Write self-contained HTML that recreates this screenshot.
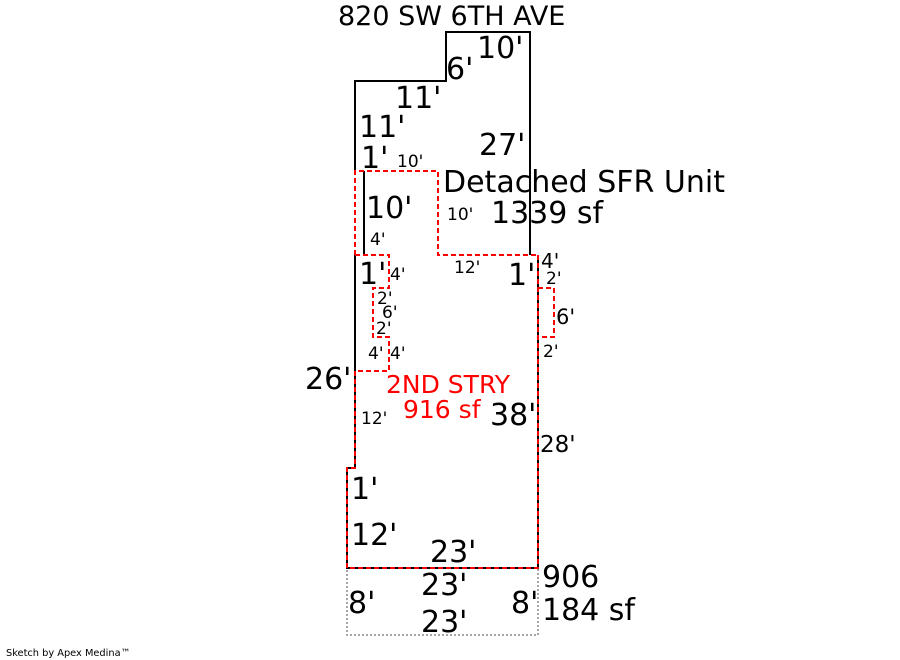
<!DOCTYPE html>
<html><head><meta charset="utf-8"><style>
html,body{margin:0;padding:0;background:#fff;}
svg{display:block;}
text{font-family:"DejaVu Sans","Liberation Sans",sans-serif;fill:#000;}
.b{font-size:30px;}
.m{font-size:25px;}
.s{font-size:17px;}
.r{fill:#f00;}
</style></head><body>
<svg width="900" height="660" viewBox="0 0 900 660" xmlns="http://www.w3.org/2000/svg">
<rect x="347" y="568" width="191" height="67" fill="none" stroke="#888" stroke-width="1.5" stroke-dasharray="2,2"/>
<g fill="none" stroke="#000" stroke-width="2">
<polyline points="355,171 355,81 446,81 446,32 530,32 530,255"/>
<line x1="364" y1="171" x2="364" y2="255"/>
<polyline points="355,255 355,468 347,468 347,568 538,568 538,255"/>
</g>
<g fill="none" stroke="#f00" stroke-width="2" stroke-dasharray="5,3">
<polyline points="355,255 355,171 438,171 438,255 538,255"/>
<polyline points="355,255 389,255 389,288 373,288 373,337 389,337 389,371 355,371"/>
<polyline points="538,288 554,288 554,337 538,337"/>
<polyline points="355,371 355,468 347,468 347,568 538,568 538,255"/>
</g>
<text x="338" y="25" style="font-size:27px">820 SW 6TH AVE</text>
<text x="477" y="58" class="b">10'</text>
<text x="446" y="79" class="b">6'</text>
<text x="395" y="108" class="b">11'</text>
<text x="359" y="137" class="b">11'</text>
<text x="361" y="168" class="b">1'</text>
<text x="397" y="167" class="s">10'</text>
<text x="479" y="155" class="b">27'</text>
<text x="443" y="192" class="b">Detached SFR Unit</text>
<text x="491" y="223" class="b">1339 sf</text>
<text x="366" y="218" class="b">10'</text>
<text x="447" y="220" class="s">10'</text>
<text x="370" y="245" class="s">4'</text>
<text x="359" y="284" class="b">1'</text>
<text x="390" y="280" class="s">4'</text>
<text x="454" y="273" class="s">12'</text>
<text x="508" y="285" class="b">1'</text>
<text x="541" y="268" style="font-size:20px">4'</text>
<text x="546" y="284" class="s">2'</text>
<text x="377" y="304" class="s">2'</text>
<text x="382" y="318" class="s">6'</text>
<text x="376" y="334" class="s">2'</text>
<text x="368" y="359" class="s">4'</text>
<text x="390" y="359" class="s">4'</text>
<text x="556" y="324" style="font-size:21px">6'</text>
<text x="543" y="357" class="s">2'</text>
<text x="305" y="389" class="b">26'</text>
<text x="386" y="393" class="m r">2ND STRY</text>
<text x="403" y="418" class="m r">916 sf</text>
<text x="490" y="425" class="b">38'</text>
<text x="361" y="424" class="s">12'</text>
<text x="540" y="452" style="font-size:23px">28'</text>
<text x="351" y="499" class="b">1'</text>
<text x="351" y="545" class="b">12'</text>
<text x="430" y="562" class="b">23'</text>
<text x="542" y="587" class="b">906</text>
<text x="542" y="620" class="b">184 sf</text>
<text x="421" y="595" class="b">23'</text>
<text x="348" y="613" class="b">8'</text>
<text x="511" y="613" class="b">8'</text>
<text x="421" y="632" class="b">23'</text>
<text x="6" y="656" style="font-size:9.8px;font-family:'DejaVu Sans',sans-serif">Sketch by Apex Medina™</text>
</svg>
</body></html>
